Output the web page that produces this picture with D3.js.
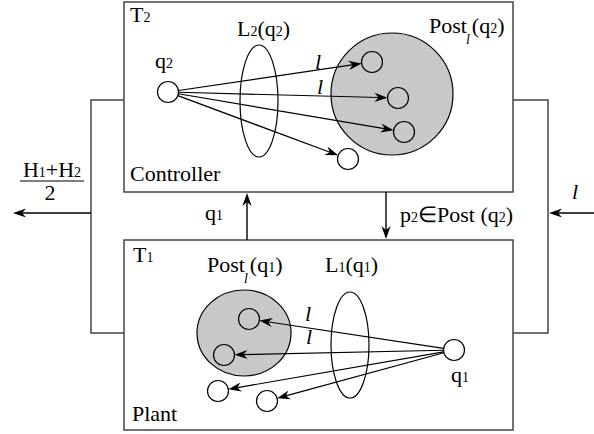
<!DOCTYPE html>
<html><head><meta charset="utf-8">
<script src="https://cdn.jsdelivr.net/npm/d3@7"></script>
</head><body style="margin:0">
<script>
// ---- data ----
const boxes = [
  {name:"T2", label:"Controller", x0:124, y0:2, x1:513, y1:192},
  {name:"T1", label:"Plant", x0:124, y0:240, x1:513, y1:430}
];
const sourceNodes = [ {id:"q2", cx:168, cy:92}, {id:"q1", cx:454, cy:350} ];
const targetsTop = [ {cx:372, cy:62}, {cx:398, cy:98}, {cx:404, cy:132}, {cx:348, cy:159} ];
const targetsBottom = [ {cx:249, cy:319}, {cx:224, cy:355}, {cx:218, cy:391}, {cx:267, cy:401} ];
const postSets = [ {cx:392, cy:94, rx:61, ry:61}, {cx:244, cy:333, rx:47, ry:43} ];
const lSets = [ {cx:259, cy:101, rx:19, ry:56}, {cx:350, cy:345, rx:19, ry:53} ];
const edgeLabels = [ {x:315, y:69}, {x:317, y:94}, {x:305, y:321}, {x:306, y:344} ];

const W=594, H=434, R=10.5, FS=22, FSS=14;
const svg = d3.select("body").append("svg").attr("width",W).attr("height",H)
  .style("display","block").attr("font-family","Times New Roman");

function rich(x, y, parts, anchor){
  const g = svg.append("g");
  let cx = 0, dyAcc = 0;
  parts.forEach(p=>{
    const o = p[1]||{};
    if(o.dx) cx += o.dx;
    if(o.dy) dyAcc += o.dy;
    const t = g.append("text").attr("x",cx).attr("y",dyAcc)
      .attr("font-family","Times New Roman")
      .attr("font-size",o.sub?FSS:FS).text(p[0]);
    if(o.it) t.attr("font-style","italic");
    cx += t.node().getComputedTextLength();
  });
  const shift = anchor==="middle" ? -cx/2 : 0;
  g.attr("transform",`translate(${x+shift},${y})`);
  return g;
}

function arrowHead(tx, ty, ux, uy, len=13, w=4.6, notch=9){
  const px=-uy, py=ux;
  const pts=[[tx,ty],[tx-ux*len+px*w, ty-uy*len+py*w],[tx-ux*notch, ty-uy*notch],[tx-ux*len-px*w, ty-uy*len-py*w]];
  svg.append("path").attr("d","M"+pts.map(p=>p.join(",")).join("L")+"Z").attr("fill","#000");
}
function arrowLine(x1,y1,x2,y2,sw){
  const dx=x2-x1, dy=y2-y1, L=Math.hypot(dx,dy), ux=dx/L, uy=dy/L;
  svg.append("line").attr("x1",x1).attr("y1",y1).attr("x2",x2-ux*8).attr("y2",y2-uy*8).attr("stroke","#000").attr("stroke-width",sw||1.2);
  arrowHead(x2,y2,ux,uy);
}

function pathW(d){ svg.append("path").attr("d",d).attr("fill","none").attr("stroke","#444").attr("stroke-width",1.5); }
pathW("M124,100H91V333H124");
pathW("M513,100H548V333H513");

boxes.forEach(b=>{
  svg.append("rect").attr("x",b.x0).attr("y",b.y0).attr("width",b.x1-b.x0).attr("height",b.y1-b.y0)
    .attr("fill","none").attr("stroke","#444").attr("stroke-width",1.5);
});

postSets.forEach(s=>svg.append("ellipse").attr("cx",s.cx).attr("cy",s.cy).attr("rx",s.rx).attr("ry",s.ry)
  .attr("fill","#c8c8c8").attr("stroke","#000").attr("stroke-width",1.2));
lSets.forEach(s=>svg.append("ellipse").attr("cx",s.cx).attr("cy",s.cy).attr("rx",s.rx).attr("ry",s.ry)
  .attr("fill","none").attr("stroke","#000").attr("stroke-width",1.2));

function edges(src, targets){
  targets.forEach(t=>{
    const dx=t.cx-src.cx, dy=t.cy-src.cy, L=Math.hypot(dx,dy), ux=dx/L, uy=dy/L;
    arrowLine(src.cx+ux*R, src.cy+uy*R, t.cx-ux*R, t.cy-uy*R);
  });
}
edges(sourceNodes[0], targetsTop);
edges(sourceNodes[1], targetsBottom);

sourceNodes.forEach(n=>svg.append("circle").attr("cx",n.cx).attr("cy",n.cy).attr("r",R)
  .attr("fill","#fff").attr("stroke","#000").attr("stroke-width",1.2));
[...targetsTop, ...targetsBottom].forEach(n=>svg.append("circle").attr("cx",n.cx).attr("cy",n.cy).attr("r",R)
  .attr("fill","none").attr("stroke","#000").attr("stroke-width",1.2));

arrowLine(91,213,13,213,1.4);
arrowLine(594,213,549,213,1.4);
arrowLine(247,240,247,193,1.4);
arrowLine(386,192,386,239,1.4);

rich(130,22,[["T"],["2",{sub:true}]]);
rich(133,262,[["T"],["1",{sub:true}]]);
rich(130,181,[["Controller"]]);
rich(132,421,[["Plant"]]);
rich(155,68,[["q"],["2",{sub:true}]]);
rich(451,382,[["q"],["1",{sub:true}]]);
rich(237,36,[["L"],["2",{sub:true}],["(q"],["2",{sub:true}],[")"]]);
rich(325,272,[["L"],["1",{sub:true}],["(q"],["1",{sub:true}],[")"]]);
rich(429,33,[["Post"],["l",{it:true,sub:true,dy:11,dx:-1}],["(q",{dy:-11,dx:2}],["2",{sub:true}],[")"]]);
rich(207,272,[["Post"],["l",{it:true,sub:true,dy:11,dx:-1}],["(q",{dy:-11,dx:2}],["1",{sub:true}],[")"]]);
edgeLabels.forEach(e=>rich(e.x,e.y,[["l",{it:true}]]));
rich(400,222,[["p"],["2",{sub:true}],["\u2208Post (q"],["2",{sub:true}],[")"]]);
rich(205,220,[["q"],["1",{sub:true}]]);
rich(572,199,[["l",{it:true}]]);
rich(52,177,[["H"],["1",{sub:true}],["+H"],["2",{sub:true}]],"middle");
svg.append("line").attr("x1",20).attr("x2",84).attr("y1",181).attr("y2",181).attr("stroke","#000").attr("stroke-width",1.2);
rich(50,200,[["2"]],"middle");
</script>
</body></html>
